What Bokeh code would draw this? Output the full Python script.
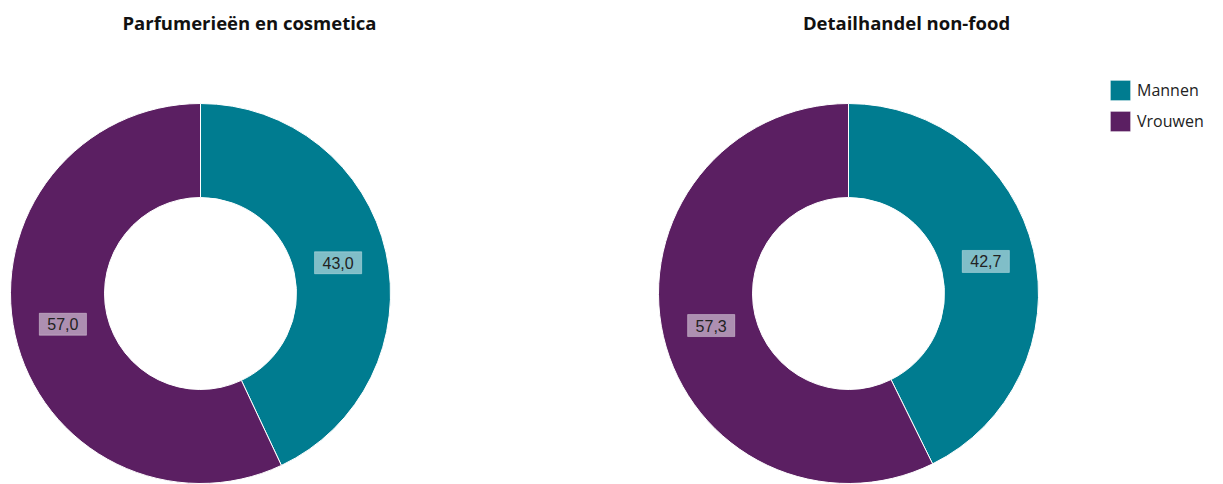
import numpy as np
from bokeh.plotting import figure
from bokeh.models import Range1d, ColumnDataSource, Legend, LegendItem
from bokeh.core.properties import value
from bokeh.embed import file_html
from bokeh.resources import INLINE

# ---- data ----
titles = ["Parfumerieën en cosmetica", "Detailhandel non-food"]
categories = ["Mannen", "Vrouwen"]
mannen = [43.0, 42.7]
vrouwen = [57.0, 57.3]
colors = ["#007C90", "#5B1F62"]

W, H = 1223, 484
p = figure(width=W, height=H, output_backend="svg", toolbar_location=None,
           x_range=Range1d(0, W), y_range=Range1d(0, H),
           min_border=0)
p.axis.visible = False
p.grid.visible = False
p.outline_line_color = None
p.background_fill_color = "white"

def py(page_y):
    return H - page_y

centers_x = [200, 848]
center_y = py(293)
title_x = [249, 906]
outer_r, inner_r = 190, 96

legend_items = []
for i in range(2):
    vals = np.array([mannen[i], vrouwen[i]])
    frac = vals / vals.sum()
    ends = np.cumsum(frac) * 2 * np.pi
    starts = ends - frac * 2 * np.pi
    start_ang = np.pi / 2 - starts
    end_ang = np.pi / 2 - ends
    src = ColumnDataSource(dict(
        x=[centers_x[i]] * 2, y=[center_y] * 2,
        start=list(start_ang), end=list(end_ang),
        color=colors, cat=categories,
    ))
    r = p.annular_wedge(x="x", y="y", inner_radius=inner_r, outer_radius=outer_r,
                        start_angle="start", end_angle="end", direction="clock",
                        fill_color="color", line_color="white", line_width=1,
                        source=src)
    if i == 0:
        legend_items = [LegendItem(label=categories[k], renderers=[r], index=k) for k in range(2)]
    mid = (start_ang + end_ang) / 2
    lr = (outer_r + inner_r) / 2 - 2
    lx = centers_x[i] + lr * np.cos(mid)
    ly = center_y + lr * np.sin(mid)
    labels = [f"{v:.1f}".replace(".", ",") for v in vals]
    p.text(x=list(lx), y=list(ly), text=labels, text_align="center",
           text_baseline="middle", text_font=value("Liberation Sans"),
           text_font_size="16px", text_color="#222222",
           background_fill_color="white", background_fill_alpha=0.5,
           border_line_color="white", border_line_alpha=0.35,
           padding=(8, 5))
    p.text(x=[title_x[i]], y=[py(22)], text=[titles[i]], text_align="center",
           text_baseline="middle", text_font=value("Open Sans"),
           text_font_size="18.5px", text_font_style="bold", text_color="#111111")

legend = Legend(items=legend_items, location=(1107, 350),
                glyph_width=26, glyph_height=26, spacing=5, padding=0, margin=0,
                label_text_font="Open Sans", label_text_font_size="16px",
                label_text_color="#222222", label_standoff=4,
                border_line_color=None, background_fill_alpha=0)
p.add_layout(legend)

open("out.html", "w").write(file_html(p, INLINE))
